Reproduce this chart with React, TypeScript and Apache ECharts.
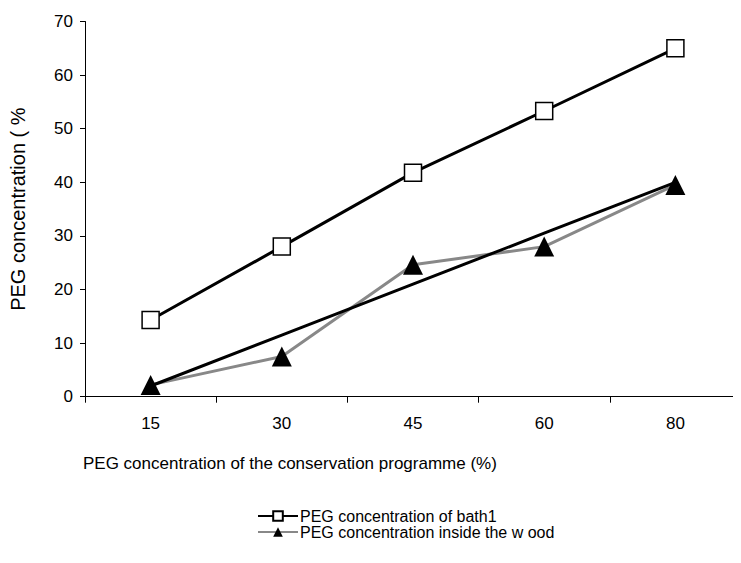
import React, { useEffect, useRef } from "react";
import * as echarts from "echarts";

const categories = ["15", "30", "45", "60", "80"];
const bathValues = [14.3, 28.0, 41.8, 53.3, 65.0];
const woodValues = [2.2, 7.5, 24.6, 28.0, 39.5];
const trendValues = [2.0, 11.5, 21.0, 30.5, 40.0];
const yTicks = { min: 0, max: 70, interval: 10 };

const seriesNames = [
  "PEG concentration of bath1",
  "PEG concentration inside the w ood",
];
const xTitle = "PEG concentration of the conservation programme (%)";
const yTitle = "PEG concentration ( %";

const FONT = "'Liberation Sans', Arial, sans-serif";

export default function App() {
  const ref = useRef<HTMLDivElement>(null);
  useEffect(() => {
    if (!ref.current) return;
    const chart = echarts.init(ref.current, undefined, { renderer: "svg" });
    chart.setOption({
      animation: false,
      backgroundColor: "#ffffff",
      textStyle: { fontFamily: FONT, color: "#000" },
      grid: { left: 85, right: -5, top: 21.5, bottom: 166.3, containLabel: false },
      xAxis: {
        type: "category",
        data: categories,
        boundaryGap: true,
        axisLine: { lineStyle: { color: "#000", width: 1 } },
        axisTick: { show: true, length: 6, inside: false, lineStyle: { color: "#000" } },
        axisLabel: { color: "#000", fontSize: 17, margin: 18, fontFamily: FONT },
        splitLine: { show: false },
      },
      yAxis: {
        type: "value",
        min: yTicks.min,
        max: yTicks.max,
        interval: yTicks.interval,
        name: yTitle,
        nameLocation: "middle",
        nameGap: 57,
        nameRotate: 90,
        nameTextStyle: { color: "#000", fontSize: 20, fontFamily: FONT },
        axisLine: { show: true, lineStyle: { color: "#000", width: 1 } },
        axisTick: { show: true, length: 5, lineStyle: { color: "#000" } },
        axisLabel: { color: "#000", fontSize: 17, margin: 12, fontFamily: FONT },
        splitLine: { show: false },
      },
      legend: {
        orient: "vertical",
        left: 252,
        top: 503,
        itemWidth: 40,
        itemHeight: 12,
        itemGap: 0,
        data: seriesNames,
        textStyle: {
          color: "#000",
          fontSize: 16,
          lineHeight: 15,
          fontFamily: FONT,
          padding: [0, 0, 0, -3],
        },
      },
      graphic: [
        {
          type: "text",
          left: 83,
          top: 455,
          style: { text: xTitle, fill: "#000", fontSize: 17, fontFamily: FONT },
        },
      ],
      series: [
        {
          name: "trend",
          type: "line",
          data: trendValues,
          symbol: "none",
          lineStyle: { color: "#000", width: 3 },
          z: 3,
          silent: true,
        },
        {
          name: seriesNames[1],
          type: "line",
          data: woodValues,
          symbol: "triangle",
          symbolSize: [20, 20],
          itemStyle: { color: "#000" },
          lineStyle: { color: "#888888", width: 3 },
          z: 2,
        },
        {
          name: seriesNames[0],
          type: "line",
          data: bathValues,
          symbol: "rect",
          symbolSize: 17,
          itemStyle: { color: "#fff", borderColor: "#000", borderWidth: 1.5 },
          lineStyle: { color: "#000", width: 3 },
          z: 4,
        },
      ],
    });
    return () => chart.dispose();
  }, []);
  return <div ref={ref} style={{ width: 741, height: 563, margin: -8 }} />;
}
